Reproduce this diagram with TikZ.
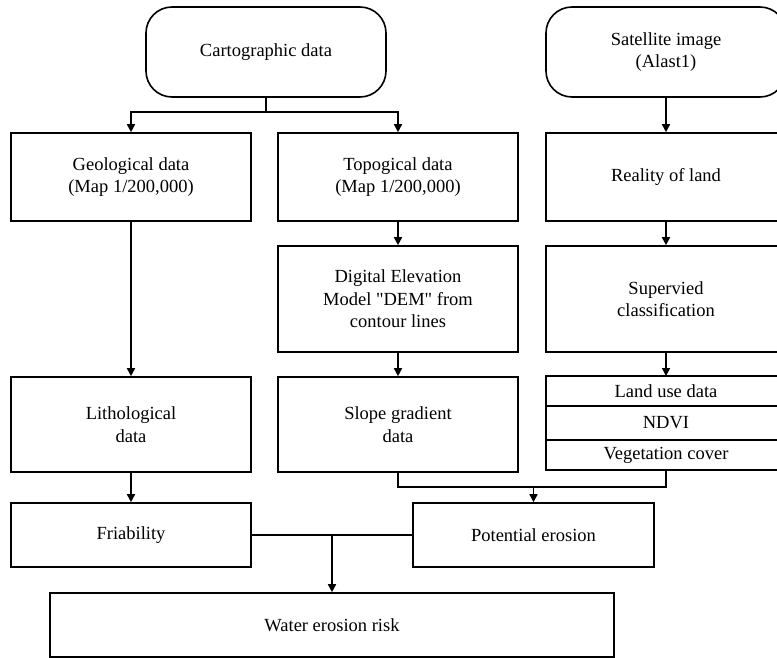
\documentclass[tikz,border=0pt]{standalone}
\usepackage{fontspec}
\setmainfont{Liberation Serif}
\usetikzlibrary{arrows.meta,positioning}

\begin{document}
\begin{tikzpicture}[
    x=1pt, y=-1pt,
    every node/.style={font=\fontsize{18.5}{22.5}\selectfont},
    box/.style={draw, line width=1.6pt, align=center, minimum width=240pt, inner sep=0pt},
    source/.style={box, rounded corners=26pt},
    layer/.style={box, outer sep=0pt},
    flow/.style={-{Triangle[length=8pt, width=8pt]}, line width=1.6pt},
    link/.style={line width=1.6pt}
]
\useasboundingbox (0,0) rectangle (777,658);
% sources
\node[source, minimum height=90pt] (carto) at (266,52) {Cartographic data};
\node[source, minimum height=90pt] (sat) at (666,52) {Satellite image\\(Alast1)};
% first row
\node[box, minimum height=88pt] (geo) at (131,177) {Geological data\\(Map 1/200,000)};
\node[box, minimum height=88pt] (topo) at (398,177) {Topogical data\\(Map 1/200,000)};
\node[box, minimum height=88pt] (reality) at (666,177) {Reality of land};
% second row
\node[box, minimum height=106pt] (dem) at (398,299) {Digital Elevation\\Model \textquotedbl DEM\textquotedbl{} from\\contour lines};
\node[box, minimum height=106pt] (superv) at (666,299) {Supervied\\classification};
% third row
\node[box, minimum height=95pt] (litho) at (131,424.5) {Lithological\\data};
\node[box, minimum height=95pt] (slope) at (398,424.5) {Slope gradient\\data};
\node[layer, minimum height=30pt] (landuse) at (666,391) {Land use data};
\node[layer, minimum height=34pt, below=0pt of landuse] (ndvi) {NDVI};
\node[layer, minimum height=30pt, below=0pt of ndvi] (veg) {Vegetation cover};
% results
\node[box, minimum height=64pt] (friab) at (131,535) {Friability};
\node[box, minimum height=64pt, minimum width=241pt] (potential) at (533.5,535) {Potential erosion};
\node[box, minimum height=64pt, minimum width=564pt] (risk) at (332,625) {Water erosion risk};

\coordinate (cartojoin) at (266,112);
\coordinate (erojoin) at (533.5,487);
\coordinate (riskjoin) at (332,535);

\draw[link] (carto) -- (cartojoin);
\draw[flow] (cartojoin) -| (geo);
\draw[flow] (cartojoin) -| (topo);
\draw[flow] (sat) -- (reality);
\draw[flow] (topo) -- (dem);
\draw[flow] (reality) -- (superv);
\draw[flow] (geo) -- (litho);
\draw[flow] (dem) -- (slope);
\draw[flow] (superv) -- (landuse);
\draw[flow] (litho) -- (friab);
\draw[link] (slope) |- (erojoin);
\draw[link] (veg) |- (erojoin);
\draw[flow] (erojoin) -- (potential);
\draw[link] (friab) -- (potential);
\draw[flow] (riskjoin) -- (risk);
\end{tikzpicture}
\end{document}
